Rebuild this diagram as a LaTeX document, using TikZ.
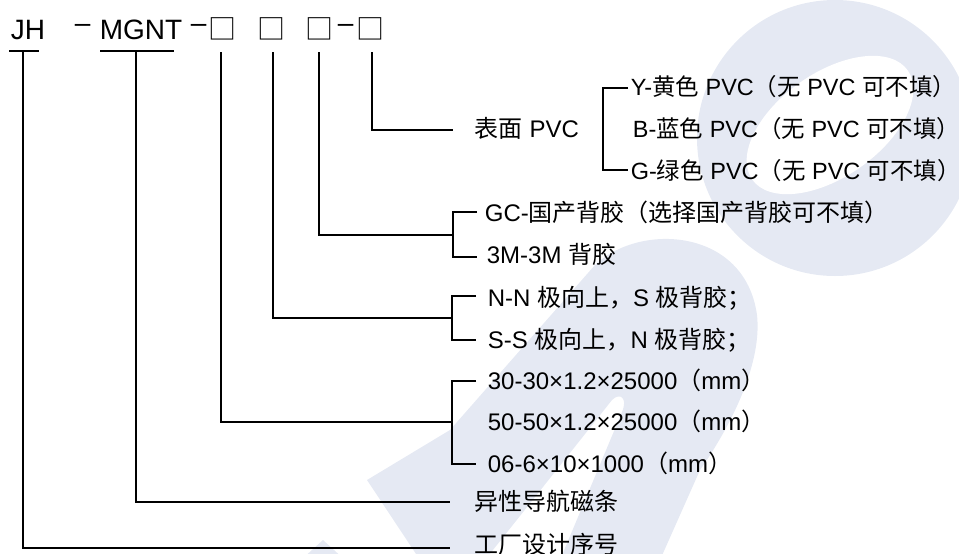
\documentclass[tikz,border=0pt]{standalone}
\usepackage{fontspec}
\setmainfont{Liberation Sans}
\newfontfamily\cjk{Noto Sans CJK SC}
\newcommand\C[1]{{\cjk #1}}
\newcommand\rpar{\makebox[0.55em][l]{\cjk ）}}
\definecolor{wm}{RGB}{229,233,243}
\begin{document}
\begin{tikzpicture}[x=0.75pt,y=-0.75pt,line width=1.3pt,
  body/.style={anchor=base west,inner sep=0pt,font=\fontsize{18pt}{21pt}\selectfont},
  pvcrow/.style={anchor=base west,inner sep=0pt,font=\fontsize{17.6pt}{21pt}\selectfont},
  ttl/.style={anchor=base west,inner sep=0pt,font=\fontsize{21pt}{24pt}\selectfont},
  sq/.style={anchor=center,inner sep=0pt,font=\cjk\fontsize{21pt}{24pt}\selectfont},
  conn/.style={draw=black,line width=1.3pt}]
\useasboundingbox (0,0) rectangle (959,553);
% watermark
\fill[wm] (835,138) circle (138);
\fill[white,rotate around={35:(830,125)}] (830,125) ellipse [x radius=95,y radius=52];
\fill[wm,even odd rule]
  (367,480) -- (450,430) -- (595,265) .. controls (640,222) and (745,228) .. (757,315)
  .. controls (762,360) and (735,420) .. (700,470) -- (660,560) -- (420,560) -- cycle
  (485,560) -- (612,400) .. controls (620,392) and (628,398) .. (622,412) -- (560,560) -- cycle;
\fill[wm] (323,540) -- (345,560) -- (301,560) -- cycle;
% title
\node[ttl] (jh) at (10,39) {JH};
\node[ttl] (d1) at (74,32.7) {–};
\node[ttl] (mgnt) at (99,39) {MGNT};
\node[ttl] (d2) at (190,32.7) {–};
\node[sq] (b1) at (222.5,28.5) {□};
\node[sq] (b2) at (271.5,28.5) {□};
\node[sq] (b3) at (319,28.5) {□};
\node[ttl] (d3) at (337,32.7) {–};
\node[sq] (b4) at (370,28.5) {□};
% underlines
\coordinate (ujl) at (9,51); \coordinate (ujr) at (39,51);
\coordinate (uml) at (100,51); \coordinate (umr) at (174,51);
\draw[conn] (ujl) -- (ujr);
\draw[conn] (uml) -- (umr);
% stems
\coordinate (sjh) at (23,51);  \coordinate (ejh) at (450,548);
\coordinate (smg) at (136,51); \coordinate (emg) at (450,502);
\coordinate (s1) at (221,52);  \coordinate (e1) at (452,422);
\coordinate (s2) at (273,52);  \coordinate (e2) at (452,318);
\coordinate (s3) at (319,52);  \coordinate (e3) at (453,235);
\coordinate (s4) at (372,52);  \coordinate (e4) at (453,130);
\draw[conn] (sjh) |- (ejh);
\draw[conn] (smg) |- (emg);
\draw[conn] (s1) |- (e1);
\draw[conn] (s2) |- (e2);
\draw[conn] (s3) |- (e3);
\draw[conn] (s4) |- (e4);
% brackets
\coordinate (p1) at (628,88);  \coordinate (p2) at (628,170);
\coordinate (g1) at (477,212); \coordinate (g2) at (477,257);
\coordinate (n1) at (476,296); \coordinate (n2) at (476,340);
\coordinate (z1) at (476,381); \coordinate (z2) at (476,464);
\draw[conn] (p1) -- ++(-25,0) |- (p2);
\draw[conn] (g1) -- ++(-24,0) |- (g2);
\draw[conn] (n1) -- ++(-24,0) |- (n2);
\draw[conn] (z1) -- ++(-24,0) |- (z2);
% texts
\node[pvcrow] (ty) at (630,95.6) {Y-\C{黄色} PVC\C{（无} PVC \C{可不填}\rpar};
\node[pvcrow] (tb) at (632,137.6) {B-\C{蓝色} PVC\C{（无} PVC \C{可不填}\rpar};
\node[pvcrow] (tg) at (630,179.6) {G-\C{绿色} PVC\C{（无} PVC \C{可不填}\rpar};
\node[body] (tpvc) at (474,137.6) {\C{表面} PVC};
\node[body] (tgc) at (484,221.6) {GC-\C{国产背胶（选择国产背胶可不填）}};
\node[body] (t3m) at (486,263.6) {3M-3M \C{背胶}};
\node[body] (tnn) at (487,306.6) {N-N \C{极向上，}S \C{极背胶；}};
\node[body] (tss) at (487,348.6) {S-S \C{极向上，}N \C{极背胶；}};
\node[body] (t30) at (487,389.6) {30-30×1.2×25000\C{（}mm\C{）}};
\node[body] (t50) at (487,430.6) {50-50×1.2×25000\C{（}mm\C{）}};
\node[body] (t06) at (487,472.6) {06-6×10×1000\C{（}mm\C{）}};
\node[body] (tyx) at (474,510.6) {\C{异性导航磁条}};
\node[body] (tgc2) at (474,553.6) {\C{工厂设计序号}};
\end{tikzpicture}
\end{document}
